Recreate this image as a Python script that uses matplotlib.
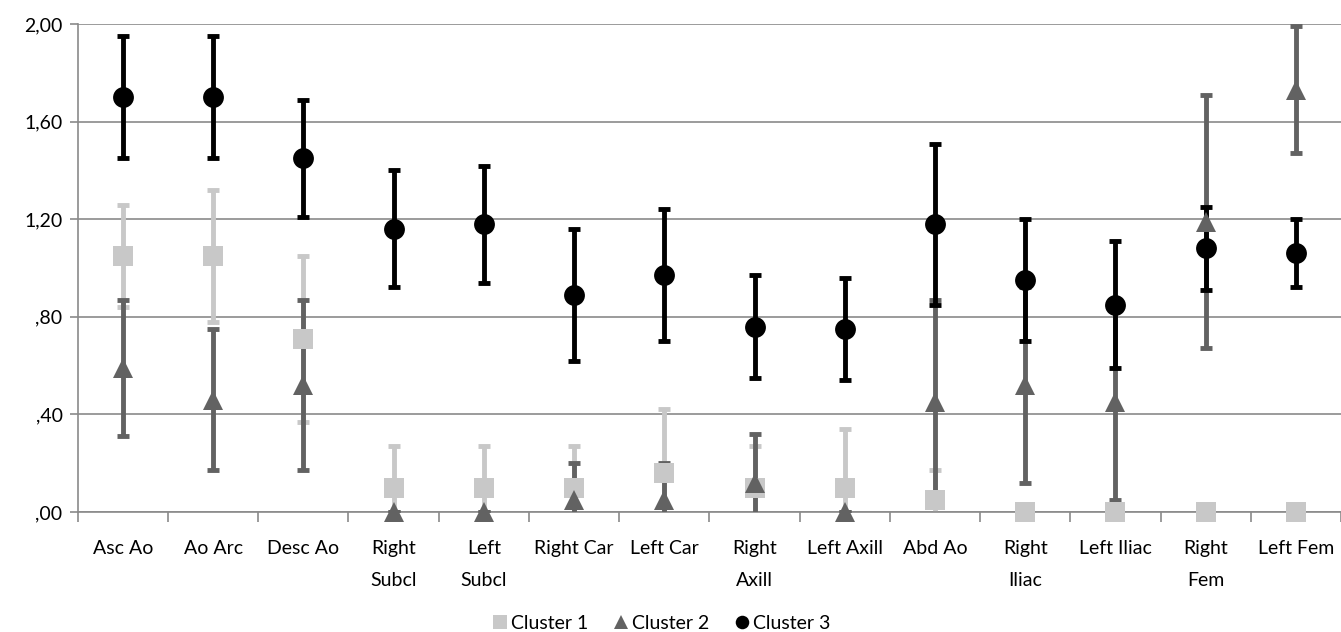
"""
Mean +/- SD per vessel segment for three clusters (Excel-style dot plot).
"""

import matplotlib.pyplot as plt
from matplotlib.ticker import FixedLocator

# ---- data ----
segments = ["Asc Ao", "Ao Arc", "Desc Ao", "Right\nSubcl", "Left\nSubcl",
            "Right Car", "Left Car", "Right\nAxill", "Left Axill", "Abd Ao",
            "Right\nIliac", "Left Iliac", "Right\nFem", "Left Fem"]

cluster1_mean = [1.05, 1.05, 0.71, 0.10, 0.10, 0.10, 0.16, 0.10, 0.10, 0.05,
                 0.00, 0.00, 0.00, 0.00]
cluster1_sd = [0.21, 0.27, 0.34, 0.17, 0.17, 0.17, 0.26, 0.17, 0.24, 0.12,
               0.00, 0.00, 0.00, 0.00]

cluster2_mean = [0.59, 0.46, 0.52, 0.00, 0.00, 0.05, 0.05, 0.12, 0.00, 0.45,
                 0.52, 0.45, 1.19, 1.73]
cluster2_sd = [0.28, 0.29, 0.35, 0.00, 0.00, 0.15, 0.15, 0.20, 0.00, 0.42,
               0.40, 0.40, 0.52, 0.26]

cluster3_mean = [1.70, 1.70, 1.45, 1.16, 1.18, 0.89, 0.97, 0.76, 0.75, 1.18,
                 0.95, 0.85, 1.08, 1.06]
cluster3_sd = [0.25, 0.25, 0.24, 0.24, 0.24, 0.27, 0.27, 0.21, 0.21, 0.33,
               0.25, 0.26, 0.17, 0.14]

y_ticks = [0.0, 0.4, 0.8, 1.2, 1.6, 2.0]
y_tick_labels = [",00", ",40", ",80", "1,20", "1,60", "2,00"]

series = [
    ("Cluster 1", cluster1_mean, cluster1_sd, "#c8c8c8", "s", 15),
    ("Cluster 2", cluster2_mean, cluster2_sd, "#626262", "^", 15),
    ("Cluster 3", cluster3_mean, cluster3_sd, "#000000", "o", 15),
]

plt.rcParams['font.family'] = ['Lato', 'DejaVu Sans']

fig = plt.figure(figsize=(13.41, 6.32), dpi=100)
ax = fig.add_axes([0.058, 0.19, 0.942, 0.772])

x = list(range(len(segments)))

# error bars first, markers on top (as Excel does)
for i, (name, mean, sd, color, marker, size) in enumerate(series):
    ax.errorbar(x, mean, yerr=sd, fmt='none', ecolor=color, elinewidth=3.5,
                capsize=4, capthick=3.5, zorder=2 + i)

for i, (name, mean, sd, color, marker, size) in enumerate(series):
    ax.plot(x, mean, linestyle='none', marker=marker, markersize=size,
            color=color, markeredgewidth=0, clip_on=False, zorder=6 + i,
            label=name)

ax.set_xlim(-0.5, len(segments) - 0.5)
ax.set_ylim(0, 2.0)

ax.set_yticks(y_ticks)
ax.set_yticklabels(y_tick_labels, fontsize=14)
ax.yaxis.grid(True, color='#8a8a8a', linewidth=1.2)
ax.set_axisbelow(True)

ax.set_xticks(x)
ax.set_xticklabels(segments, fontsize=14, linespacing=2.1, va='top')
ax.tick_params(axis='x', which='major', length=0, pad=20)
ax.xaxis.set_minor_locator(FixedLocator([k - 0.5 for k in range(len(segments) + 1)]))
ax.tick_params(axis='x', which='minor', length=7, color='#8a8a8a', width=1.2)
ax.tick_params(axis='y', length=6, color='#8a8a8a', width=1.2, pad=5)

for side in ['top', 'right']:
    ax.spines[side].set_visible(False)
ax.spines['left'].set_color('#8a8a8a')
ax.spines['bottom'].set_color('#8a8a8a')
ax.spines['left'].set_linewidth(1.2)
ax.spines['bottom'].set_linewidth(1.2)

fig.legend(loc='lower center', bbox_to_anchor=(0.493, -0.027), ncol=3,
           frameon=False, fontsize=14, handletextpad=0.15, columnspacing=1.3,
           markerscale=0.65, handlelength=0.8)

fig.savefig("out.png", dpi=100)
